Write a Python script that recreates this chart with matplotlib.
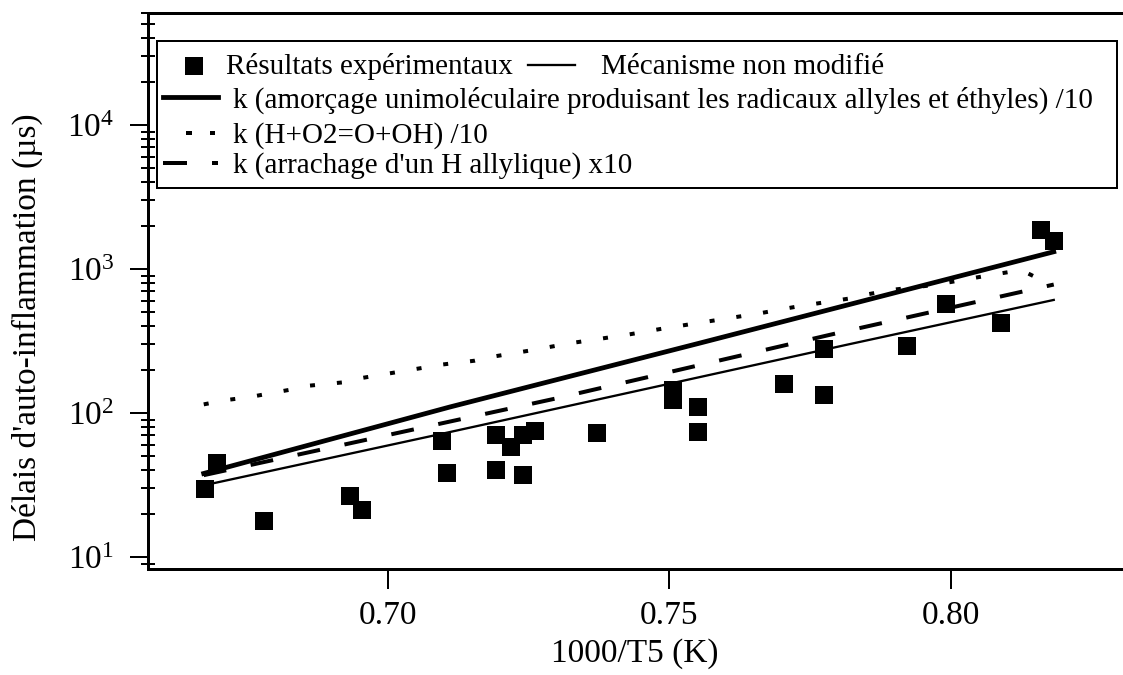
import matplotlib
matplotlib.use("Agg")
import matplotlib.pyplot as plt
from matplotlib.lines import Line2D
from matplotlib.patches import Rectangle
from matplotlib.ticker import LogLocator, LogFormatterSciNotation, FixedLocator, NullLocator

plt.rcParams['font.family'] = ['Liberation Serif', 'DejaVu Serif']
plt.rcParams['mathtext.fontset'] = 'custom'
plt.rcParams['mathtext.rm'] = 'Liberation Serif'
plt.rcParams['lines.scale_dashes'] = False

# données
exp_x = [0.6676, 0.6696, 0.6780, 0.6933, 0.6954, 0.7097, 0.7106, 0.7193, 0.7219,
         0.7241, 0.7262, 0.7193, 0.7241, 0.7372, 0.7507, 0.7507, 0.7551, 0.7551,
         0.7704, 0.7775, 0.7775, 0.7923, 0.7992, 0.8090, 0.8161, 0.8183]
exp_y = [29.5, 44.8, 17.9, 26.7, 21.2, 64, 38.5, 70.3, 58.3,
         70.3, 75.3, 40.2, 37.1, 73, 145, 124, 110.6, 74,
         159, 278, 133, 293, 571, 424, 1866, 1575]

ref_x = [0.6690, 0.7112, 0.7819, 0.8183]
ref_y = [32.5, 74, 300, 610]

amor_x = [0.6673, 0.7110, 0.7553, 0.8183]
amor_y = [38, 110, 305, 1318]

hO2_x = [0.6673, 0.6713, 0.6752, 0.6831, 0.6856, 0.6921, 0.6946, 0.7064, 0.7089,
         0.7154, 0.7180, 0.7258, 0.7323, 0.7426, 0.7491, 0.7660, 0.7725, 0.7828,
         0.7852, 0.7893, 0.7970, 0.8060, 0.8125, 0.8179]
hO2_y = [114.8, 123.0, 128.5, 146.2, 154.2, 163.3, 173.0, 206.5, 215.3,
         230.7, 243.8, 273.8, 304.8, 349.9, 387.3, 492.0, 547.0, 631.0,
         666.8, 714.5, 774.5, 893.1, 984.0, 774.5]

arr_x = [0.6673, 0.7298, 0.7796, 0.8183]
arr_y = [37, 126, 357, 780]

labels = ["Résultats expérimentaux", "Mécanisme non modifié",
          "k (amorçage unimoléculaire produisant les radicaux allyles et éthyles) /10",
          "k (H+O2=O+OH) /10",
          "k (arrachage d'un H allylique) x10"]

W, H = 1123, 675
fig = plt.figure(figsize=(W / 100, H / 100), dpi=100)
ax = fig.add_axes([148 / W, 1 - 569 / H, 1 - 148 / W, (569 - 13) / H])

PT = 72 / 100  # px -> pt
dotted = (0, (5 * PT, 22 * PT))
dashed = (0, (23 * PT, 25 * PT))

ax.plot(exp_x, exp_y, 's', color='black', markersize=18 * PT, markeredgewidth=0)
ax.plot(ref_x, ref_y, '-', color='black', lw=2.3 * PT)
ax.plot(amor_x, amor_y, '-', color='black', lw=4.8 * PT)
ax.plot(hO2_x, hO2_y, color='black', lw=4 * PT, linestyle=dotted, dash_capstyle='butt')
ax.plot(arr_x, arr_y, color='black', lw=4 * PT, linestyle=dashed, dash_capstyle='butt')

ax.set_yscale('log')
ax.set_xlim(0.6574, 0.8306)
ax.set_ylim(8.25, 6e4)

ax.xaxis.set_major_locator(FixedLocator([0.70, 0.75, 0.80]))
ax.set_xticklabels(["0.70", "0.75", "0.80"])
ax.xaxis.set_minor_locator(NullLocator())
ax.yaxis.set_major_locator(LogLocator(base=10, numticks=10))
ax.yaxis.set_major_formatter(LogFormatterSciNotation())
ax.yaxis.set_minor_locator(LogLocator(base=10, subs=range(2, 10), numticks=20))

ax.tick_params(axis='x', which='major', direction='out', length=20 * PT, width=2 * PT,
               labelsize=24, pad=11 * PT)
ax.tick_params(axis='y', which='major', direction='out', length=18 * PT, width=2 * PT,
               labelsize=24, pad=16 * PT)
ax.tick_params(axis='y', which='minor', direction='inout', length=14 * PT, width=2 * PT)

for s in ['left', 'bottom', 'top']:
    ax.spines[s].set_linewidth(3 * PT)
ax.spines['right'].set_visible(False)

ax.set_xlabel("1000/T5 (K)", fontsize=24)
ax.set_ylabel("Délais d'auto-inflammation (µs)", fontsize=24)
ax.xaxis.set_label_coords(487 / 975, -(638 - 569) / 556)
ax.yaxis.set_label_coords(-(148 - 43) / 975, (569 - 327) / 556)


# légende dessinée à la main (pixels -> fraction de figure)
def P(x, y):
    return x / W, 1 - y / H


tf = fig.transFigure
x0, y0 = P(157, 188)
fig.add_artist(Rectangle((x0, y0), (1117 - 157) / W, (188 - 41) / H, transform=tf,
                         fill=False, edgecolor='black', lw=2 * PT))
fig.add_artist(Line2D([P(194, 0)[0]], [P(0, 65.5)[1]], transform=tf, marker='s',
                      color='black', markersize=18 * PT, markeredgewidth=0, linestyle='none'))
fig.add_artist(Line2D([P(528, 0)[0], P(575, 0)[0]], [P(0, 65)[1]] * 2, transform=tf,
                      color='black', lw=2.3 * PT))
fig.add_artist(Line2D([P(163, 0)[0], P(218, 0)[0]], [P(0, 97)[1]] * 2, transform=tf,
                      color='black', lw=4.8 * PT))
for a, b in [(186, 192), (210, 215)]:
    fig.add_artist(Line2D([P(a, 0)[0], P(b, 0)[0]], [P(0, 133)[1]] * 2, transform=tf,
                          color='black', lw=4 * PT, solid_capstyle='butt'))
for a, b in [(163, 187), (212, 218)]:
    fig.add_artist(Line2D([P(a, 0)[0], P(b, 0)[0]], [P(0, 163)[1]] * 2, transform=tf,
                          color='black', lw=4 * PT, solid_capstyle='butt'))

fig.text(*P(226, 74), labels[0], fontsize=21, va='baseline')
fig.text(*P(601, 74), labels[1], fontsize=21, va='baseline')
fig.text(*P(233, 108), labels[2], fontsize=21, va='baseline')
fig.text(*P(233, 143), labels[3], fontsize=21, va='baseline')
fig.text(*P(233, 173), labels[4], fontsize=21, va='baseline')

fig.savefig("out.png", dpi=100)
